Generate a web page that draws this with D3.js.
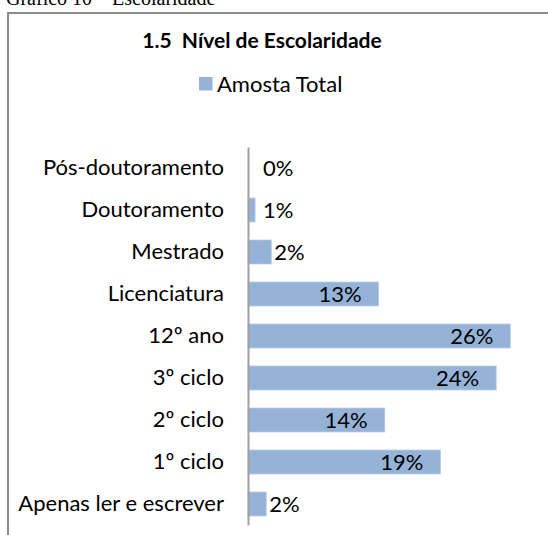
<!DOCTYPE html>
<html>
<head>
<meta charset="utf-8">
<script src="https://cdn.jsdelivr.net/npm/d3@7"></script>
<style>
  body { margin: 0; background: #fff; }
  text { font-family: Lato, "Open Sans", sans-serif; fill: #000; }
</style>
</head>
<body>
<svg id="chart" width="548" height="535"></svg>
<script>
// data (percent of total sample)
const categories = ['Pós-doutoramento', 'Doutoramento', 'Mestrado', 'Licenciatura', '12º ano',
    '3º ciclo', '2º ciclo', '1º ciclo', 'Apenas ler e escrever'];
const values = [0.0, 0.7, 2.3, 12.9, 25.9, 24.5, 13.5, 19.0, 1.8];
const valueLabels = ['0%', '1%', '2%', '13%', '26%', '24%', '14%', '19%', '2%'];
const seriesName = 'Amosta Total';

const svg = d3.select('#chart');
const fontSize = '22px';

// caption above the frame, mostly cut off
svg.append('text')
    .attr('x', 6)
    .attr('y', 5)
    .style('font-family', '"Liberation Serif", "Times New Roman", serif')
    .style('font-size', '20px')
    .text('Gráfico 10 – Escolaridade');

// chart frame (runs off the right and bottom edges)
svg.append('path')
    .attr('d', 'M8,540 L8,13 L560,13')
    .attr('fill', 'none')
    .attr('stroke', '#8c8c8c')
    .attr('stroke-width', 2);

// title (keeps the double space)
svg.append('text')
    .attr('x', 262)
    .attr('y', 48)
    .attr('text-anchor', 'middle')
    .style('font-size', '21px')
    .style('font-weight', 'bold')
    .style('white-space', 'pre')
    .text('1.5  Nível de Escolaridade');

// legend
const legend = svg.append('g').attr('transform', 'translate(199, 77)');
legend.append('rect')
    .attr('width', 13.5)
    .attr('height', 13.5)
    .attr('fill', '#95b3d7');
legend.append('text')
    .attr('x', 18)
    .attr('y', 14.5)
    .style('font-size', fontSize)
    .text(seriesName);

// scales
const x0 = 248;
const pxPerPct = 10.13;
const xScale = d3.scaleLinear()
    .domain([0, 30])
    .range([x0, x0 + 30 * pxPerPct]);
const inner = 18 / 42;
const yScale = d3.scaleBand()
    .domain(categories)
    .range([147, 525])
    .paddingInner(inner)
    .paddingOuter(inner / 2);

// bars
const rows = categories.map((c, i) => ({ cat: c, value: values[i], label: valueLabels[i] }));
svg.selectAll('rect.bar')
    .data(rows)
    .enter()
    .append('rect')
    .attr('class', 'bar')
    .attr('x', xScale(0))
    .attr('y', d => yScale(d.cat))
    .attr('width', d => xScale(d.value) - xScale(0))
    .attr('height', yScale.bandwidth())
    .attr('fill', '#95b3d7')
    .attr('stroke', '#b9cde5')
    .attr('stroke-width', 0.8);

// category axis
const yAxis = d3.axisLeft(yScale)
    .tickSize(0)
    .tickPadding(24);
const yAxisG = svg.append('g')
    .attr('transform', `translate(${x0}, 0)`)
    .call(yAxis);
yAxisG.select('.domain')
    .attr('stroke', '#a0a0a0')
    .attr('stroke-width', 2);
yAxisG.selectAll('.tick text')
    .style('font-family', 'Lato, "Open Sans", sans-serif')
    .style('font-size', fontSize)
    .attr('fill', '#000');

// data labels: inside end for long bars, just outside for short ones
svg.selectAll('text.value')
    .data(rows)
    .enter()
    .append('text')
    .attr('class', 'value')
    .attr('dy', '0.35em')
    .attr('y', d => yScale(d.cat) + yScale.bandwidth() / 2)
    .attr('x', d => d.value > 8 ? xScale(d.value) - 17 : Math.max(x0 + 15, xScale(d.value) + 3))
    .attr('text-anchor', d => d.value > 8 ? 'end' : 'start')
    .style('font-size', fontSize)
    .text(d => d.label);
</script>
</body>
</html>
